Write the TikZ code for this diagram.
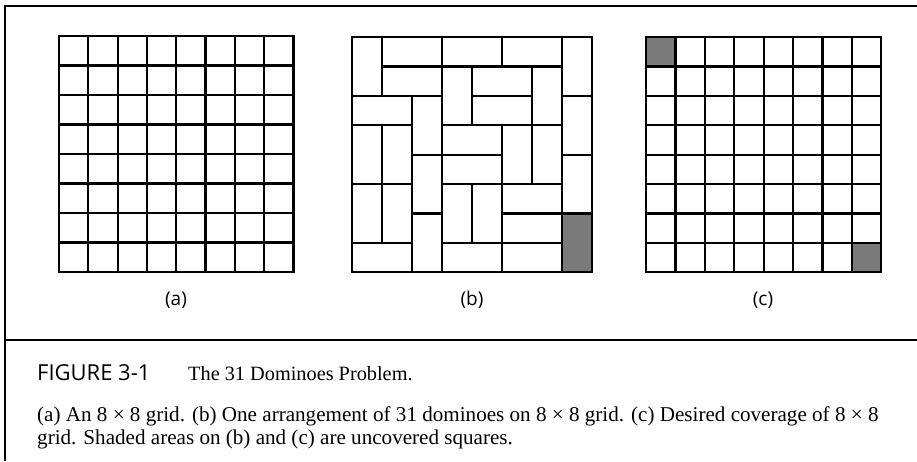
\documentclass[tikz,border=0pt]{standalone}
\usepackage{fontspec}
\setmainfont{Liberation Serif}
\setsansfont{Open Sans}
\tikzset{
  gl/.style={line width=2.2pt, line cap=rect, line join=miter, draw=black},
  frameline/.style={line width=1.4pt, draw=black},
  shade/.style={fill=black!52},
  lbl/.style={font=\sffamily\fontsize{19}{22}\selectfont, inner sep=0pt, anchor=base},
  capt/.style={font=\fontsize{21.1}{24}\selectfont, inner sep=0pt, anchor=base west},
}
\begin{document}
\begin{tikzpicture}[x=1pt,y=-1pt]
\useasboundingbox (0,0) rectangle (917,461);
\fill[white] (0,0) rectangle (917,461);
% frame
\draw[frameline] (5,461) -- (5,6) -- (917,6);
\draw[frameline] (5,340) -- (917,340);
% grid (a)
\begin{scope}[shift={(59,36)}, x=29.3pt, y=-29.5pt]
  \foreach \i in {0,...,8} {
    \draw[gl] (\i,0) -- (\i,8);
    \draw[gl] (0,\i) -- (8,\i);
  }
\end{scope}
% grid (b)
\begin{scope}[shift={(352,37)}, x=30pt, y=-29.4pt]
  \fill[shade] (7,6) rectangle (8,8);
  \foreach \ca/\ra/\wa/\ha in {
    0/0/1/2, 1/0/2/1, 3/0/2/1, 5/0/2/1, 7/0/1/2,
    1/1/2/1, 3/1/1/2, 4/1/2/1, 6/1/1/2,
    0/2/2/1, 2/2/1/2, 4/2/2/1, 7/2/1/2,
    0/3/1/2, 1/3/1/2, 3/3/2/1, 5/3/1/2, 6/3/1/2,
    2/4/1/2, 3/4/2/1, 7/4/1/2,
    0/5/1/2, 1/5/1/2, 3/5/1/2, 4/5/1/2, 5/5/2/1,
    2/6/1/2, 5/6/2/1,
    0/7/2/1, 3/7/2/1, 5/7/2/1, 7/6/1/2} {
    \draw[gl] (\ca,\ra) rectangle ++(\wa,\ha);
  }
\end{scope}
% grid (c)
\begin{scope}[shift={(646,37)}, x=29.4pt, y=-29.4pt]
  \fill[shade] (0,0) rectangle (1,1);
  \fill[shade] (7,7) rectangle (8,8);
  \foreach \i in {0,...,8} {
    \draw[gl] (\i,0) -- (\i,8);
    \draw[gl] (0,\i) -- (8,\i);
  }
\end{scope}
% labels
\node[lbl] (la) at (176,305) {(a)};
\node[lbl] (lb) at (472,305) {(b)};
\node[lbl] (lc) at (763,305) {(c)};
% title
\node[inner sep=0pt, anchor=base west, font=\sffamily\fontsize{22}{26}\selectfont] (fig) at (37,380) {FIGURE 3-1};
\node[inner sep=0pt, anchor=base west, font=\fontsize{20.3}{24}\selectfont] (ttl) at (188,380) {The 31 Dominoes Problem.};
% caption
\node[capt] (c1) at (37,421) {(a) An 8 × 8 grid. (b) One arrangement of 31 dominoes on 8 × 8 grid. (c) Desired coverage of 8 × 8};
\node[capt] (c2) at (37,444) {grid. Shaded areas on (b) and (c) are uncovered squares.};
\end{tikzpicture}
\end{document}
